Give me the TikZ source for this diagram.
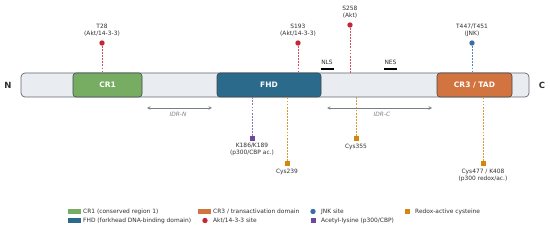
\documentclass[tikz,border=0pt]{standalone}
\usepackage{fontspec}
\setmainfont{DejaVu Sans}
\definecolor{barfill}{HTML}{E9EDF2}
\definecolor{barline}{HTML}{5F6670}
\definecolor{crgreen}{HTML}{77AD62}
\definecolor{fhdblue}{HTML}{2B6A8A}
\definecolor{tadorange}{HTML}{D27440}
\definecolor{aktred}{HTML}{C42537}
\definecolor{jnkblue}{HTML}{3B6EA8}
\definecolor{acpurple}{HTML}{6A4A9C}
\definecolor{redox}{HTML}{D4870F}
\definecolor{txt}{HTML}{2F2F2F}
\definecolor{idr}{HTML}{7A7F87}
\tikzset{
  lab/.style={font=\fontsize{5.9}{7}\selectfont, text=txt, align=center, inner sep=0pt},
  leg/.style={font=\fontsize{5.9}{7}\selectfont, text=txt, anchor=west, inner sep=0pt},
  dombox/.style={draw=barline!70!black, line width=0.6pt, rounded corners=3pt, minimum height=24pt, inner sep=0pt, text=white, font=\fontsize{7.5}{8}\selectfont\bfseries},
  sitedot/.style={circle, fill=#1, minimum size=5.4pt, inner sep=0pt},
  sitesq/.style={rectangle, fill=#1, minimum size=5pt, inner sep=0pt},
  sitestem/.style={draw=#1, dashed, dash pattern=on 1.8pt off 1.3pt, line width=0.75pt},
  legswatch/.style={rectangle, fill=#1, minimum width=13pt, minimum height=4.5pt, inner sep=0pt},
  uline/.style={line width=1.6pt, draw=black},
  idrarrow/.style={draw=idr, line width=0.6pt, <->, >={stealth}},
  idrlab/.style={font=\fontsize{5.9}{7}\selectfont\itshape, text=idr, inner sep=0pt},
}
\begin{document}
\begin{tikzpicture}[x=1pt,y=-1pt]
\useasboundingbox (0,0) rectangle (550,230);
% bar
\node[draw=barline, fill=barfill, line width=0.7pt, rounded corners=4pt, minimum width=508pt, minimum height=24pt, inner sep=0pt] (bar) at (275,85) {};
\node[dombox, fill=crgreen, minimum width=69pt] (cr1) at (107.5,85) {CR1};
\node[dombox, fill=fhdblue, minimum width=104pt] (fhd) at (269,85) {FHD};
\node[dombox, fill=tadorange, minimum width=75pt] (cr3) at (474.5,85) {CR3 / TAD};
\node[font=\fontsize{8.5}{9}\selectfont\bfseries, text=txt] (nterm) at (8,85) {N};
\node[font=\fontsize{8.5}{9}\selectfont\bfseries, text=txt] (cterm) at (542,85) {C};

% top sites
\node[sitedot=aktred] (t28) at (102,43) {};
\node[lab, anchor=south] (t28l) at (102,36.5) {T28\\(Akt/14-3-3)};
\draw[sitestem=aktred!80!white] (t28) -- (t28 |- bar.north);

\node[sitedot=aktred] (s193) at (298,43) {};
\node[lab, anchor=south] (s193l) at (298,36.5) {S193\\(Akt/14-3-3)};
\draw[sitestem=aktred!80!white] (s193) -- (s193 |- bar.north);

\node[sitedot=aktred] (s258) at (350,25) {};
\node[lab, anchor=south] (s258l) at (350,18.5) {S258\\(Akt)};
\draw[sitestem=aktred!80!white] (s258) -- (s258 |- bar.north);

\node[sitedot=jnkblue] (t447) at (472,43) {};
\node[lab, anchor=south] (t447l) at (472,36.5) {T447/T451\\(JNK)};
\draw[sitestem=jnkblue!85!white] (t447) -- (t447 |- cr3.north);

% NLS / NES
\node[lab] (nls) at (327,62.5) {NLS};
\coordinate (nlsa) at (320.5,69);
\coordinate (nlsb) at (333.5,69);
\draw[uline] (nlsa) -- (nlsb);
\node[lab] (nes) at (390.5,62.5) {NES};
\coordinate (nesa) at (384,69);
\coordinate (nesb) at (397,69);
\draw[uline] (nesa) -- (nesb);

% IDR arrows
\coordinate (idrna) at (147,108);
\coordinate (idrnb) at (212,108);
\draw[idrarrow] (idrna) -- (idrnb);
\node[idrlab] (idrn) at (178,114) {IDR-N};
\coordinate (idrca) at (327,108);
\coordinate (idrcb) at (432,108);
\draw[idrarrow] (idrca) -- (idrcb);
\node[idrlab] (idrc) at (382,114) {IDR-C};

% bottom sites
\node[sitesq=acpurple] (k186) at (252,139) {};
\node[lab, anchor=north] (k186l) at (252,143) {K186/K189\\(p300/CBP ac.)};
\draw[sitestem=acpurple!75!white] (k186) -- (k186 |- fhd.south);

\node[sitesq=redox] (c239) at (287,164) {};
\node[lab, anchor=north] (c239l) at (287,168.5) {Cys239};
\draw[sitestem=redox!85!white] (c239) -- (c239 |- fhd.south);

\node[sitesq=redox] (c355) at (356,139) {};
\node[lab, anchor=north] (c355l) at (356,143.5) {Cys355};
\draw[sitestem=redox!85!white] (c355) -- (c355 |- bar.south);

\node[sitesq=redox] (c477) at (483,164) {};
\node[lab, anchor=north] (c477l) at (483,168.5) {Cys477 / K408\\(p300 redox/ac.)};
\draw[sitestem=redox!85!white] (c477) -- (c477 |- cr3.south);

% legend
\node[legswatch=crgreen] (lg1) at (74.5,211.5) {};
\node[leg] (lg1t) at (83,211.5) {CR1 (conserved region 1)};
\node[legswatch=fhdblue] (lg2) at (74.5,220.5) {};
\node[leg] (lg2t) at (83,220.5) {FHD (forkhead DNA-binding domain)};
\node[legswatch=tadorange] (lg3) at (204.5,211.5) {};
\node[leg] (lg3t) at (213,211.5) {CR3 / transactivation domain};
\node[sitedot=aktred] (lg4) at (205,220.5) {};
\node[leg] (lg4t) at (213,220.5) {Akt/14-3-3 site};
\node[sitedot=jnkblue] (lg5) at (313,211.5) {};
\node[leg] (lg5t) at (321,211.5) {JNK site};
\node[sitesq=acpurple] (lg6) at (313,220.5) {};
\node[leg] (lg6t) at (321,220.5) {Acetyl-lysine (p300/CBP)};
\node[sitesq=redox] (lg7) at (407,211.5) {};
\node[leg] (lg7t) at (415,211.5) {Redox-active cysteine};
\end{tikzpicture}
\end{document}
